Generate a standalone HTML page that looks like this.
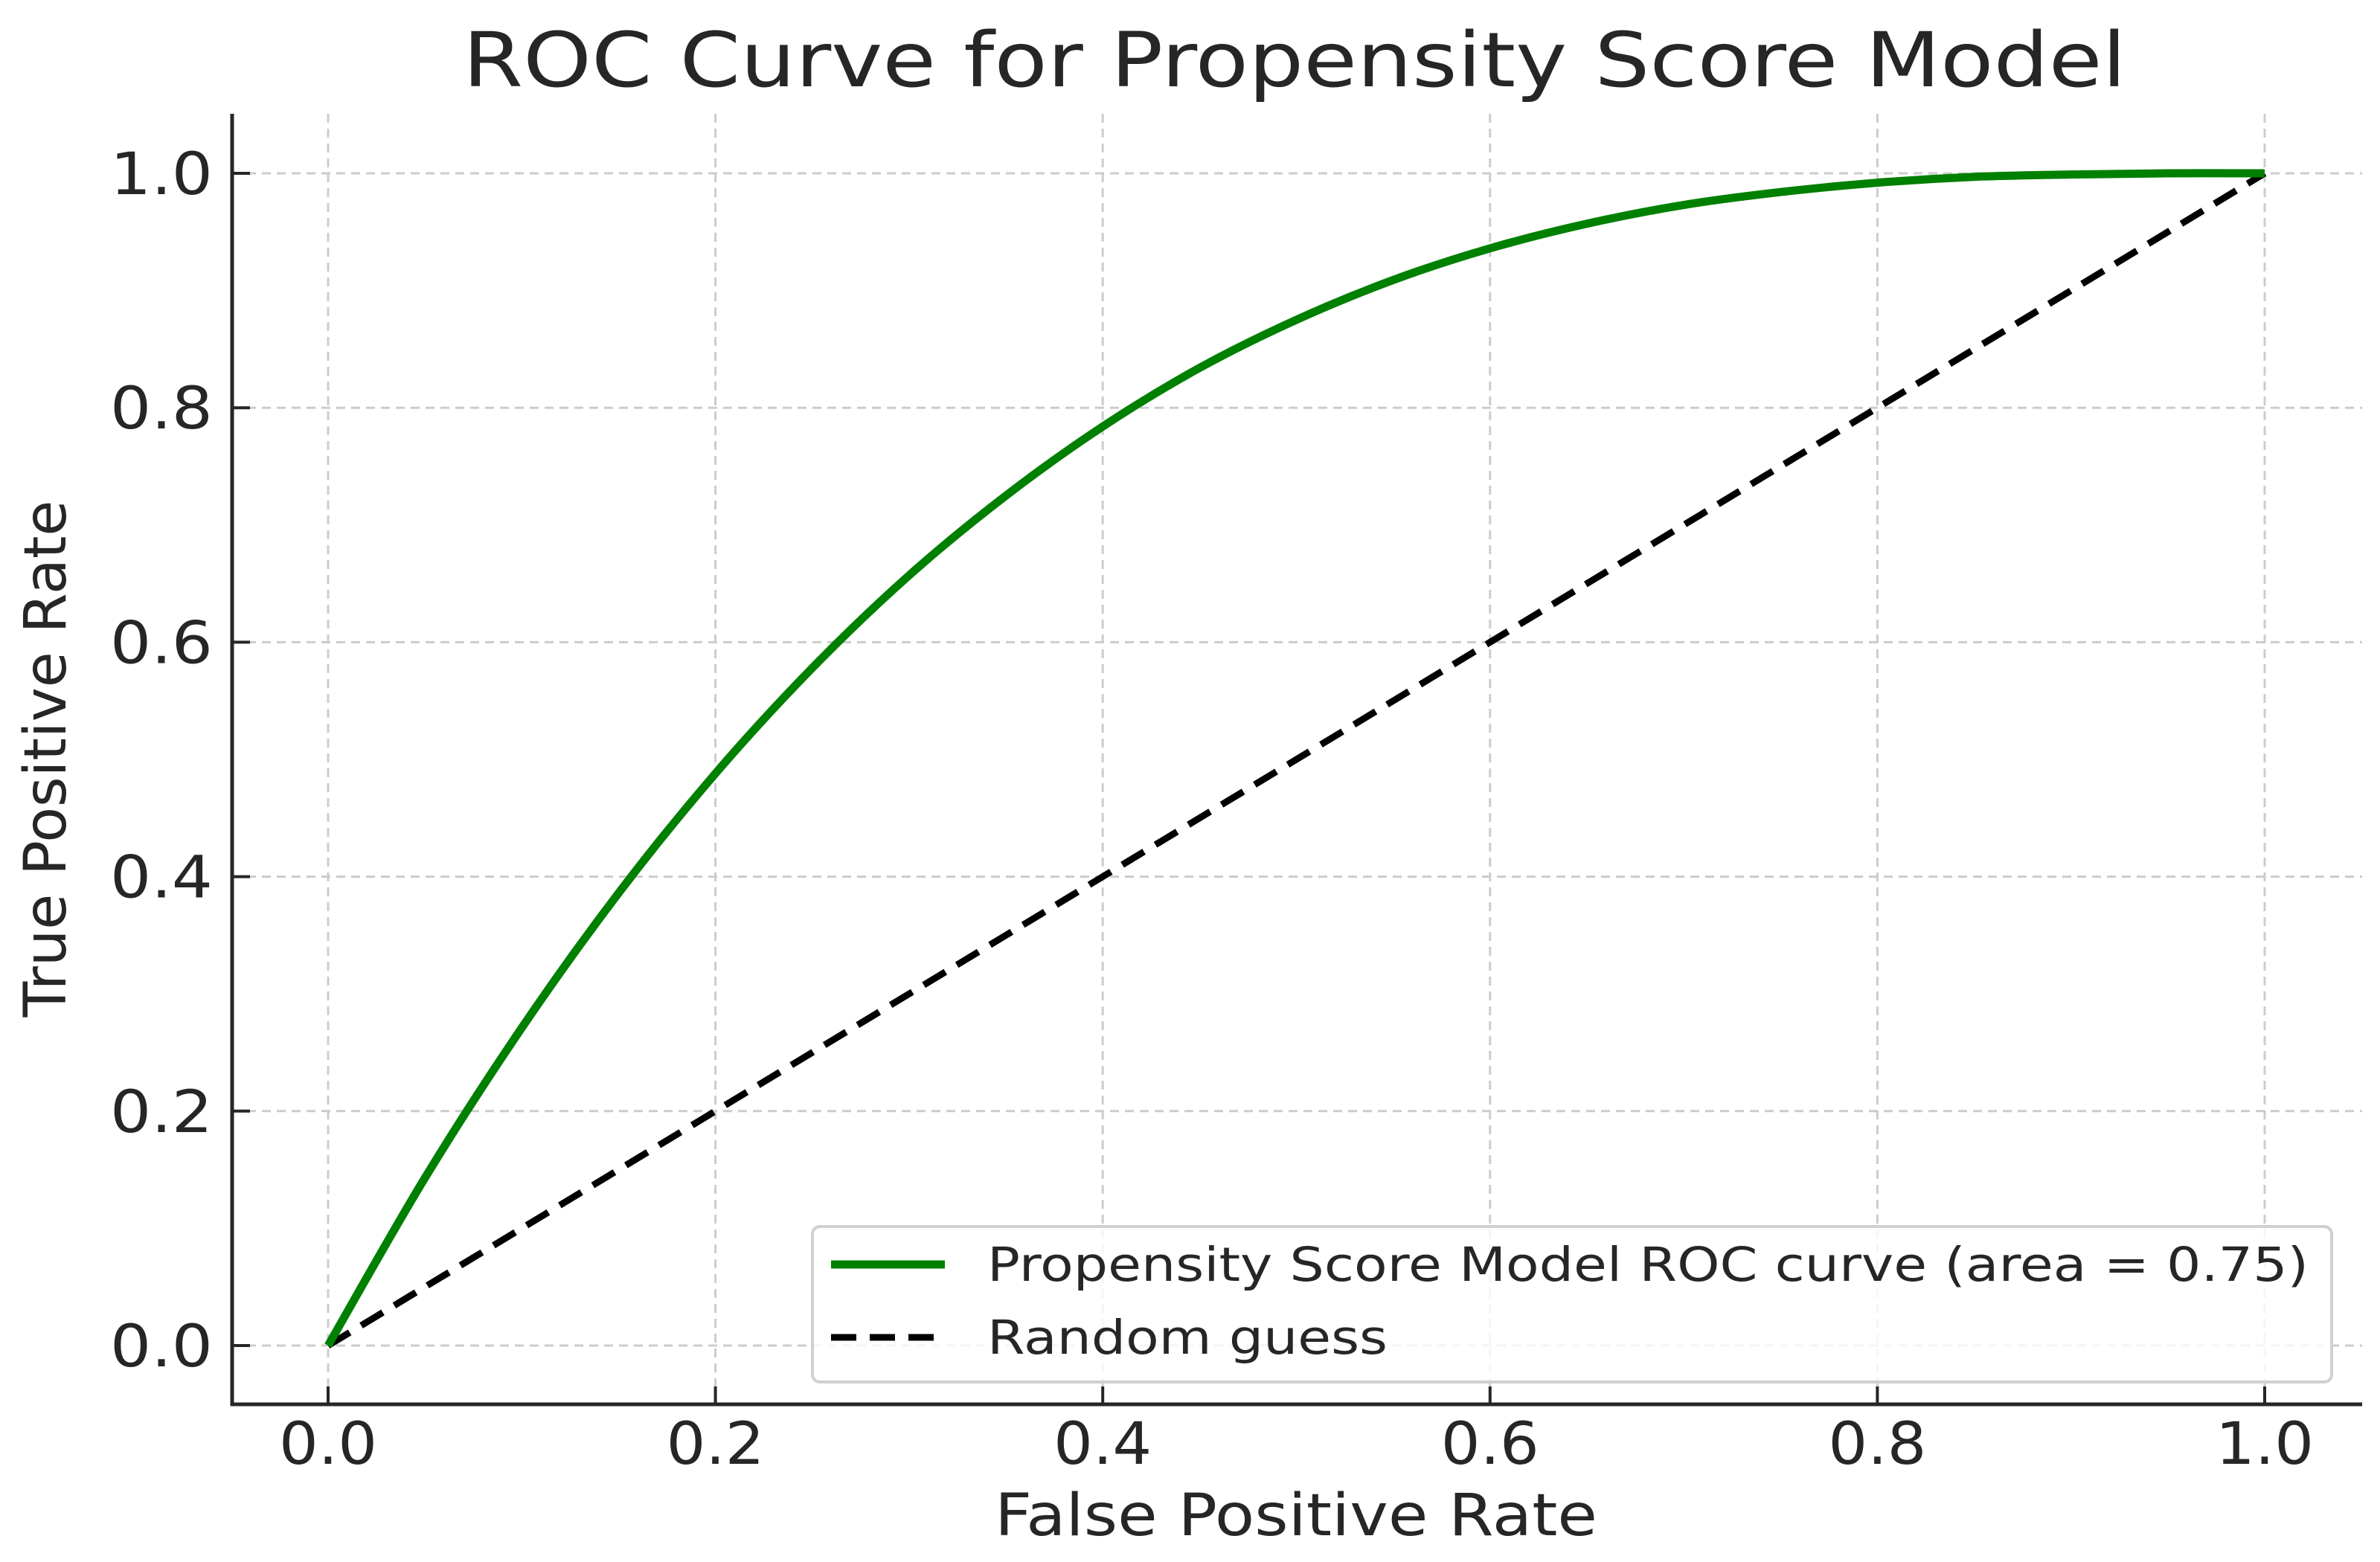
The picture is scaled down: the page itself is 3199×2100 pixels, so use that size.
<!DOCTYPE html>
<html><head><meta charset="utf-8"><style>
html,body{margin:0;padding:0;background:#fff}
svg{display:block}
text{font-family:"DejaVu Sans","Liberation Sans",sans-serif;fill:#262626}
</style></head><body>
<svg id="chart" width="3199" height="2100" viewBox="0 0 3199 2100" xmlns="http://www.w3.org/2000/svg">
<text x="622" y="116" font-size="102" textLength="2236" lengthAdjust="spacingAndGlyphs" fill="#333">ROC Curve for Propensity Score Model</text>
<g id="grid"></g>
<g id="series"></g>
<g id="axes"></g>
<text x="1337" y="2064" font-size="78" textLength="810" lengthAdjust="spacingAndGlyphs">False Positive Rate</text>
<text transform="translate(88,1020) rotate(-90)" font-size="78" text-anchor="middle">True Positive Rate</text>
<g>
<rect x="1092" y="1649" width="2042" height="209" rx="10" fill="#fff" fill-opacity="0.8" stroke="#d0d0d0" stroke-width="4"/>
<line x1="1117" y1="1700" x2="1270" y2="1700" stroke="#008000" stroke-width="11"/>
<text x="1327" y="1722" font-size="63" textLength="1776" lengthAdjust="spacingAndGlyphs">Propensity Score Model ROC curve (area = 0.75)</text>
<line x1="1117" y1="1798" x2="1270" y2="1798" stroke="#000" stroke-width="9" stroke-dasharray="34,18"/>
<text x="1327" y="1820" font-size="63" textLength="538" lengthAdjust="spacingAndGlyphs">Random guess</text>
</g>
</svg>
<script>
const fprValues=[0,0.05,0.1,0.15,0.2,0.25,0.3,0.35,0.4,0.45,0.5,0.55,0.6,0.65,0.7,0.75,0.8,0.85,0.9,0.95,1];
const tprValues=[0,0.143,0.271,0.386,0.488,0.578,0.657,0.725,0.784,0.834,0.875,0.909,0.936,0.957,0.973,0.984,0.992,0.997,0.999,1.0,1.0];
const randomX=[0,1];
const randomY=[0,1];
const xTicks=[0,0.2,0.4,0.6,0.8,1.0];
const yTicks=[0,0.2,0.4,0.6,0.8,1.0];
const xTickLabels=["0.0","0.2","0.4","0.6","0.8","1.0"];
const yTickLabels=["0.0","0.2","0.4","0.6","0.8","1.0"];

const NS="http://www.w3.org/2000/svg";
function sx(v){return 441+v*(3044-441);}
function sy(v){return 1809-v*(1809-233);}
function mk(tag,attrs,parent){const e=document.createElementNS(NS,tag);for(const k in attrs)e.setAttribute(k,attrs[k]);parent.appendChild(e);return e;}
const grid=document.getElementById('grid'),series=document.getElementById('series'),axes=document.getElementById('axes');
xTicks.forEach((t,i)=>{
  const g=mk('line',{x1:sx(t),x2:sx(t),y1:153,y2:1888,stroke:'#cccccc','stroke-width':3,'stroke-dasharray':'12,8'},grid);
  
  
  const tk=mk('line',{x1:sx(t),x2:sx(t),y1:1888,y2:1864,stroke:'#262626','stroke-width':4},axes);
  
  
  const tl=mk('text',{x:sx(t)-66,y:1968,'font-size':78,textLength:132,lengthAdjust:'spacingAndGlyphs'},axes);
  tl.textContent=xTickLabels[i];
  
  
});
yTicks.forEach((t,i)=>{
  const g=mk('line',{x1:312,x2:3175,y1:sy(t),y2:sy(t),stroke:'#cccccc','stroke-width':3,'stroke-dasharray':'12,8'},grid);
  
  
  const tk=mk('line',{x1:312,x2:336,y1:sy(t),y2:sy(t),stroke:'#262626','stroke-width':4},axes);
  
  
  const tl=mk('text',{x:148,y:sy(t)+28,'font-size':78,textLength:138,lengthAdjust:'spacingAndGlyphs'},axes);
  tl.textContent=yTickLabels[i];
  
  
});
const ls=mk('line',{x1:312,x2:312,y1:153,y2:1890,stroke:'#262626','stroke-width':5},axes);


const bs=mk('line',{x1:310,x2:3175,y1:1888,y2:1888,stroke:'#262626','stroke-width':5},axes);


const rnd=mk('polyline',{points:randomX.map((x,i)=>sx(x)+','+sy(randomY[i])).join(' '),fill:'none',stroke:'#000','stroke-width':9,'stroke-dasharray':'34,18'},series);


// smooth Catmull-Rom path through data points
const P=fprValues.map((x,i)=>[sx(x),sy(tprValues[i])]);
let d='M'+P[0][0]+','+P[0][1];
for(let i=0;i<P.length-1;i++){
  const p0=P[Math.max(0,i-1)],p1=P[i],p2=P[i+1],p3=P[Math.min(P.length-1,i+2)];
  const c1=[p1[0]+(p2[0]-p0[0])/6,p1[1]+(p2[1]-p0[1])/6];
  const c2=[p2[0]-(p3[0]-p1[0])/6,p2[1]-(p3[1]-p1[1])/6];
  d+=' C'+c1[0]+','+c1[1]+' '+c2[0]+','+c2[1]+' '+p2[0]+','+p2[1];
}
const roc=mk('path',{d:d,fill:'none',stroke:'#008000','stroke-width':11,'stroke-linejoin':'round'},series);


</script>
</body></html>
